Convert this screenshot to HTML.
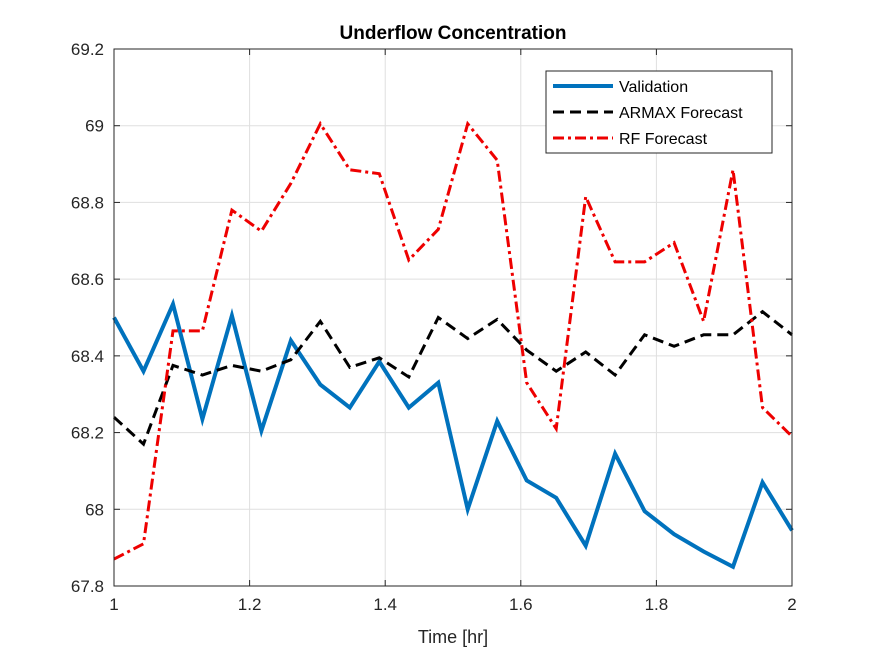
<!DOCTYPE html>
<html><head><meta charset="utf-8"><style>
body{margin:0;background:#fff;}
svg text{font-family:"Liberation Sans",sans-serif;}
</style></head><body>
<svg id="chart" width="875" height="656">
<rect x="0" y="0" width="875" height="656" fill="#fff"/>
<rect x="114" y="49" width="678" height="537" fill="#fff"/>
<g id="grid"></g>
<g id="ticks"></g>
<g id="series"></g>
<rect x="114" y="49" width="678" height="537" fill="none" stroke="#262626" stroke-width="1"/>
<text x="453" y="39" text-anchor="middle" font-size="19" font-weight="bold" fill="#000">Underflow Concentration</text>
<text x="453" y="643" text-anchor="middle" font-size="18" fill="#262626">Time [hr]</text>
<g>
<rect x="546" y="71" width="226" height="82" fill="#fff" stroke="#262626" stroke-width="1"/>
<line x1="553" y1="86" x2="613" y2="86" stroke="#0072bd" stroke-width="4"/>
<text x="619" y="92" font-size="16" fill="#000">Validation</text>
<line x1="553" y1="112" x2="613" y2="112" stroke="#000" stroke-width="3" stroke-dasharray="11,6"/>
<text x="619" y="118" font-size="16" fill="#000">ARMAX Forecast</text>
<line x1="553" y1="138" x2="613" y2="138" stroke="#e00" stroke-width="3" stroke-dasharray="11,4,3,4"/>
<text x="619" y="144" font-size="16" fill="#000">RF Forecast</text>
</g>
</svg>
<script>
const xTicks=[1,1.2,1.4,1.6,1.8,2];
const xTickLabels=["1","1.2","1.4","1.6","1.8","2"];
const yTicks=[67.8,68,68.2,68.4,68.6,68.8,69,69.2];
const yTickLabels=["67.8","68","68.2","68.4","68.6","68.8","69","69.2"];
const validation=[68.5,68.36,68.535,68.235,68.505,68.205,68.44,68.325,68.265,68.385,68.265,68.33,68.0,68.23,68.075,68.03,67.905,68.145,67.995,67.935,67.89,67.85,68.07,67.945];
const armax=[68.24,68.17,68.375,68.35,68.375,68.36,68.39,68.49,68.37,68.395,68.345,68.5,68.445,68.495,68.415,68.36,68.41,68.35,68.455,68.425,68.455,68.455,68.515,68.455];
const rf=[67.87,67.91,68.465,68.465,68.78,68.725,68.85,69.005,68.885,68.875,68.65,68.73,69.005,68.91,68.33,68.21,68.815,68.645,68.645,68.695,68.49,68.885,68.265,68.19];
const NS="http://www.w3.org/2000/svg";
const xs=v=>114+(v-1)*678;
const ys=v=>586-(v-67.8)/1.4*537;
function mk(t,a,p){const e=document.createElementNS(NS,t);for(const k in a)e.setAttribute(k,a[k]);p.appendChild(e);return e;}
const grid=document.getElementById('grid'),ticks=document.getElementById('ticks'),ser=document.getElementById('series');
xTicks.forEach((v,i)=>{const x=xs(v);
 const g=mk('line',{x1:x,x2:x,y1:49,y2:586,stroke:'#dfdfdf','stroke-width':1},grid);
 
 
 mk('line',{x1:x,x2:x,y1:586,y2:580,stroke:'#262626'},ticks);
 mk('line',{x1:x,x2:x,y1:49,y2:55,stroke:'#262626'},ticks);
 const t=mk('text',{x:x,y:610,'text-anchor':'middle','font-size':17,fill:'#262626'},ticks);t.textContent=xTickLabels[i];
 
 
});
yTicks.forEach((v,i)=>{const y=ys(v);
 const g=mk('line',{x1:114,x2:792,y1:y,y2:y,stroke:'#dfdfdf','stroke-width':1},grid);
 
 
 mk('line',{x1:114,x2:120,y1:y,y2:y,stroke:'#262626'},ticks);
 mk('line',{x1:792,x2:786,y1:y,y2:y,stroke:'#262626'},ticks);
 const t=mk('text',{x:104,y:y+6,'text-anchor':'end','font-size':17,fill:'#262626'},ticks);t.textContent=yTickLabels[i];
 
 
});
function line(data,style,name){
 const n=data.length;const pts=data.map((v,i)=>xs(1+i/(n-1)).toFixed(1)+','+ys(v).toFixed(1)).join(' ');
 const p=mk('polyline',Object.assign({points:pts,fill:'none','stroke-linejoin':'miter'},style),ser);
 
 
}
line(validation,{stroke:'#0072bd','stroke-width':4},'validation-line');
line(armax,{stroke:'#000','stroke-width':3,'stroke-dasharray':'11,6'},'armax-forecast-line');
line(rf,{stroke:'#e00','stroke-width':3,'stroke-dasharray':'11,4,3,4'},'rf-forecast-line');
</script>
</body></html>
